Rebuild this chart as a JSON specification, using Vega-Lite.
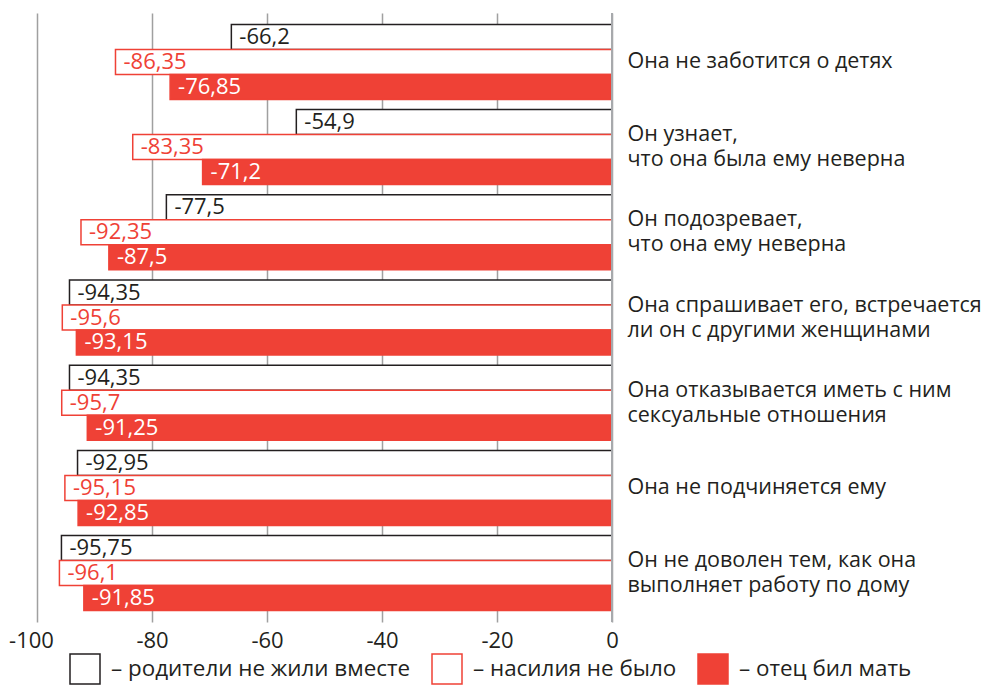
{
  "$schema": "https://vega.github.io/schema/vega-lite/v6.json",
  "width": 575,
  "height": 609,
  "autosize": {"type": "none"},
  "padding": {"left": 37, "top": 13, "right": 372, "bottom": 63},
  "config": {
    "view": {"stroke": null},
    "font": "Open Sans",
    "locale": {"number": {"decimal": ",", "thousands": " ", "grouping": [3], "currency": ["", ""], "minus": "-"}}
  },
  "data": {"values": [
    {"cat": "Она не заботится о детях", "g": "– родители не жили вместе", "v": -66.2},
    {"cat": "Она не заботится о детях", "g": "– насилия не было", "v": -86.35},
    {"cat": "Она не заботится о детях", "g": "– отец бил мать", "v": -76.85},
    {"cat": "Он узнает,|что она была ему неверна", "g": "– родители не жили вместе", "v": -54.9},
    {"cat": "Он узнает,|что она была ему неверна", "g": "– насилия не было", "v": -83.35},
    {"cat": "Он узнает,|что она была ему неверна", "g": "– отец бил мать", "v": -71.2},
    {"cat": "Он подозревает,|что она ему неверна", "g": "– родители не жили вместе", "v": -77.5},
    {"cat": "Он подозревает,|что она ему неверна", "g": "– насилия не было", "v": -92.35},
    {"cat": "Он подозревает,|что она ему неверна", "g": "– отец бил мать", "v": -87.5},
    {"cat": "Она спрашивает его, встречается|ли он с другими женщинами", "g": "– родители не жили вместе", "v": -94.35},
    {"cat": "Она спрашивает его, встречается|ли он с другими женщинами", "g": "– насилия не было", "v": -95.6},
    {"cat": "Она спрашивает его, встречается|ли он с другими женщинами", "g": "– отец бил мать", "v": -93.15},
    {"cat": "Она отказывается иметь с ним|сексуальные отношения", "g": "– родители не жили вместе", "v": -94.35},
    {"cat": "Она отказывается иметь с ним|сексуальные отношения", "g": "– насилия не было", "v": -95.7},
    {"cat": "Она отказывается иметь с ним|сексуальные отношения", "g": "– отец бил мать", "v": -91.25},
    {"cat": "Она не подчиняется ему", "g": "– родители не жили вместе", "v": -92.95},
    {"cat": "Она не подчиняется ему", "g": "– насилия не было", "v": -95.15},
    {"cat": "Она не подчиняется ему", "g": "– отец бил мать", "v": -92.85},
    {"cat": "Он не доволен тем, как она|выполняет работу по дому", "g": "– родители не жили вместе", "v": -95.75},
    {"cat": "Он не доволен тем, как она|выполняет работу по дому", "g": "– насилия не было", "v": -96.1},
    {"cat": "Он не доволен тем, как она|выполняет работу по дому", "g": "– отец бил мать", "v": -91.85}
  ]},
  "layer": [
    {
      "mark": {"type": "bar", "strokeWidth": 1.5},
      "encoding": {
        "y": {"field": "cat", "type": "nominal", "sort": null,
          "scale": {"paddingInner": 0.12, "paddingOuter": 0.134},
          "axis": {"orient": "right", "domain": false, "ticks": false, "grid": false, "title": null,
            "labelPadding": 15, "labelAlign": "left",
            "labelBaseline": {"condition": {"test": "indexof(datum.label, '|') >= 0", "value": "line-bottom"}, "value": "middle"},
            "labelFontSize": 21.5,
            "labelLineHeight": 25, "labelColor": "#231f20", "labelLimit": 0,
            "labelExpr": "split(datum.label, '|')"}},
        "yOffset": {"field": "g", "type": "nominal", "sort": null,
          "scale": {"domain": ["– родители не жили вместе", "– насилия не было", "– отец бил мать"], "paddingInner": 0, "paddingOuter": 0}},
        "x": {"field": "v", "type": "quantitative",
          "scale": {"domain": [-100, 0], "nice": false},
          "axis": {"values": [-100, -80, -60, -40, -20, 0], "format": "d", "grid": true, "gridColor": "#a0a0a0",
            "gridWidth": 1.5, "domain": false, "ticks": false, "labelPadding": 8, "labelFontSize": 22,
            "labelOffset": {"condition": {"test": "datum.value == -100", "value": -6}, "value": 0},
            "labelColor": "#231f20", "title": null, "labelFlush": false}},
        "fill": {"field": "g", "type": "nominal",
          "scale": {"domain": ["– родители не жили вместе", "– насилия не было", "– отец бил мать"], "range": ["white", "white", "#ef4136"]},
          "legend": {"orient": "none", "legendX": 32, "legendY": 640, "direction": "horizontal",
            "symbolType": "square", "symbolSize": 900, "symbolStrokeWidth": 1.5, "labelFontSize": 22.4,
            "labelColor": "#231f20", "labelOffset": 10, "columnPadding": 18, "title": null, "labelLimit": 0}},
        "stroke": {"field": "g", "type": "nominal",
          "scale": {"domain": ["– родители не жили вместе", "– насилия не было", "– отец бил мать"], "range": ["#231f20", "#ef4136", "#ef4136"]},
          "legend": {"orient": "none", "legendX": 32, "legendY": 640, "direction": "horizontal",
            "symbolType": "square", "symbolSize": 900, "symbolStrokeWidth": 1.5, "labelFontSize": 22.4,
            "labelColor": "#231f20", "labelOffset": 10, "columnPadding": 18, "title": null, "labelLimit": 0}}
      }
    },
    {
      "mark": {"type": "text", "align": "left", "baseline": "middle", "dx": 8, "fontSize": 22},
      "encoding": {
        "y": {"field": "cat", "type": "nominal", "sort": null},
        "yOffset": {"field": "g", "type": "nominal", "sort": null},
        "x": {"field": "v", "type": "quantitative"},
        "text": {"field": "v", "type": "quantitative", "format": ".2~f"},
        "color": {"condition": [
          {"test": "datum.g === '– родители не жили вместе'", "value": "#231f20"},
          {"test": "datum.g === '– насилия не было'", "value": "#ef4136"}
        ], "value": "white"}
      }
    },
    {
      "mark": {"type": "rule", "color": "#a7a9ac", "strokeWidth": 2},
      "encoding": {"x": {"datum": 0}}
    }
  ]
}
